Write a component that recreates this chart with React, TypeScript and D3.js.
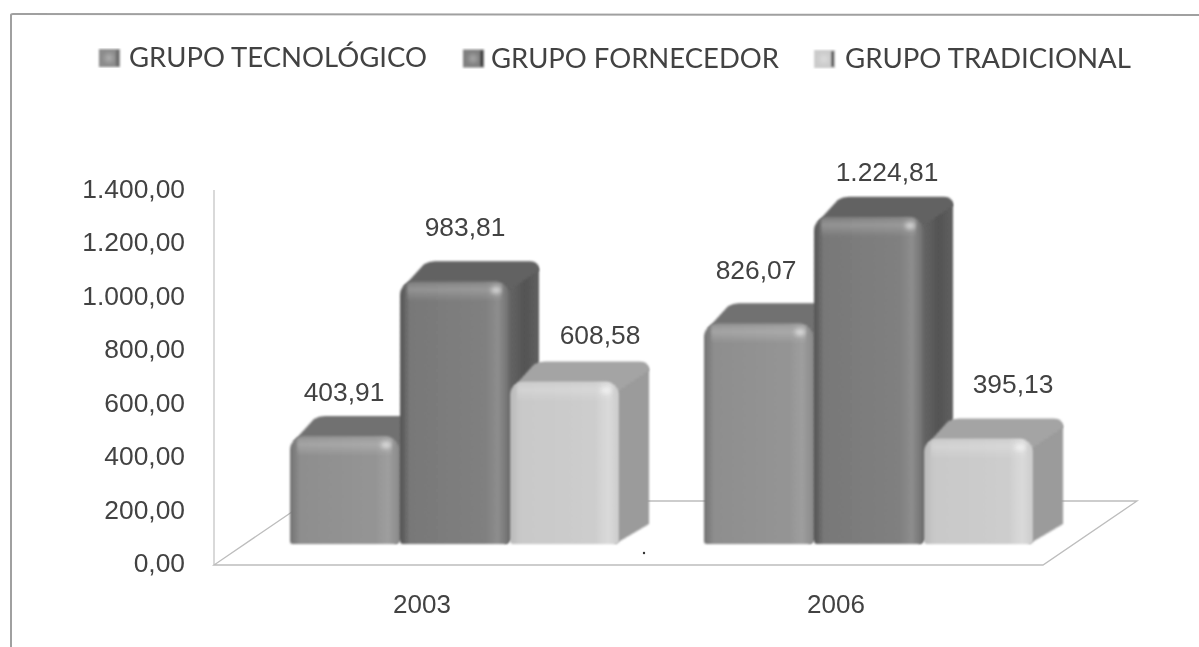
import React from "react";
import * as d3 from "d3";

const years = ["2003", "2006"];
const seriesNames = ["GRUPO TECNOLÓGICO", "GRUPO FORNECEDOR", "GRUPO TRADICIONAL"];
const values2003 = [403.91, 983.81, 608.58];
const values2006 = [826.07, 1224.81, 395.13];
const valueLabels2003 = ["403,91", "983,81", "608,58"];
const valueLabels2006 = ["826,07", "1.224,81", "395,13"];
const yTicks = [0, 200, 400, 600, 800, 1000, 1200, 1400];
const yTickLabels = ["0,00", "200,00", "400,00", "600,00", "800,00", "1.000,00", "1.200,00", "1.400,00"];

const W = 1199, H = 647;
const DX = 30, DY = 20, LIFT = 20;
const faceColors = [
  { front: ["#6f6f6f", "#8e8e8e", "#959595", "#a0a0a0", "#8a8a8a"], top: "#707070", side: "#7a7a7a" },
  { front: ["#4e4e4e", "#777777", "#7f7f7f", "#8e8e8e", "#6c6c6c"], top: "#5f5f5f", side: "#525252" },
  { front: ["#bcbcbc", "#cdcdcd", "#d2d2d2", "#e0e0e0", "#d0d0d0"], top: "#a6a6a6", side: "#9c9c9c" },
];
const labelNudge2003 = [[-1, -24], [10, -34], [35, -26]];
const labelNudge2006 = [[-3, -33], [18, -25], [34, -34]];
const legendX = [129, 491, 845];
const legendW = [298, 288, 286];
const legendY = [67, 67.5, 68];
const swatchX = [99, 463, 814];
const swatchShade = ["#8c8c8c", "#7f7f7f", "#d0d0d0"];
const swatchEdge = ["#6a6a6a", "#3c3c3c", "#555555"];

const y = d3.scaleLinear().domain([0, 1400]).range([564, 190]);
const x0 = d3.scaleBand<string>().domain(years).range([248, 1076]).paddingInner(84 / 414).paddingOuter(42 / 414);
const x1 = d3.scaleBand<string>().domain(seriesNames).range([0, x0.bandwidth()]);

function frontPath(x: number, w: number, top: number, base: number) {
  const r = 14, b = 3;
  const p = d3.path();
  p.moveTo(x, base - b);
  p.lineTo(x, top + r);
  p.arcTo(x, top, x + r, top, r);
  p.lineTo(x + w - r, top);
  p.arcTo(x + w, top, x + w, top + r, r);
  p.lineTo(x + w, base - b);
  p.arcTo(x + w, base, x + w - b, base, b);
  p.lineTo(x + b, base);
  p.arcTo(x, base, x, base - b, b);
  p.closePath();
  return p.toString();
}
function topPath(x: number, w: number, top: number) {
  const p = d3.path();
  const r = 9;
  p.moveTo(x + 3, top + 6);
  p.lineTo(x + DX - 6, top - DY + 3);
  p.quadraticCurveTo(x + DX - 1, top - DY, x + DX + 5, top - DY);
  p.lineTo(x + w + DX - r, top - DY);
  p.quadraticCurveTo(x + w + DX, top - DY, x + w + DX, top - DY + r);
  p.lineTo(x + w, top + r);
  p.closePath();
  return p.toString();
}
function sidePath(x: number, w: number, top: number, base: number) {
  const p = d3.path();
  p.moveTo(x + w - 6, top + 6);
  p.lineTo(x + w + DX - 2, top - DY + 4);
  p.lineTo(x + w + DX, top - DY + 8);
  p.lineTo(x + w + DX, base - DY);
  p.lineTo(x + w - 4, base);
  p.closePath();
  return p.toString();
}

function Shape({ d, fill }: { d: string; fill: string }) {
  return (
    <g filter="url(#soft)">
      <path d={d} fill={fill} />
      <path d={d} fill="url(#halftone)" />
    </g>
  );
}

function Bar({ year, si, value }: { year: string; si: number; value: number }) {
  const x = (x0(year) as number) + (x1(seriesNames[si]) as number);
  const w = x1.bandwidth() - 1;
  const top = y(value) - LIFT;
  const base = y(0) - LIFT;
  const c = faceColors[si];
  return (
    <g>
      <Shape d={sidePath(x, w, top, base)} fill={si === 1 ? "url(#side1)" : c.side} />
      <Shape d={topPath(x, w, top)} fill={c.top} />
      <Shape d={frontPath(x, w, top, base)} fill={`url(#front${si})`} />
      <rect x={x + 7} y={top + 2} width={w - 14} height={18} fill="url(#bevelTop)" filter="url(#soft)" />
      <ellipse cx={x + w - 13} cy={top + 9} rx={5} ry={3.5} fill="#fff" opacity={0.5} filter="url(#glow)" />
    </g>
  );
}

export default function App() {
  const groups = [
    { year: years[0], values: values2003, labels: valueLabels2003, nudge: labelNudge2003 },
    { year: years[1], values: values2006, labels: valueLabels2006, nudge: labelNudge2006 },
  ];
  const floorY = y(0) + 1;
  const floorPts = [[214, floorY], [1043, floorY], [1137, floorY - 64], [308, floorY - 64]];
  const textFill = "#424242";
  const num = "'Liberation Sans', Arial, sans-serif";
  return (
    <svg width={W} height={H} viewBox={`0 0 ${W} ${H}`} style={{ position: "fixed", left: 0, top: 0, background: "#fff" }}>
      <defs>
        <pattern id="halftone" width={3} height={3} patternUnits="userSpaceOnUse">
          <rect x={0} y={0} width={1.2} height={1.2} fill="#000" opacity={0.2} />
          <rect x={1.5} y={1.5} width={1.2} height={1.2} fill="#fff" opacity={0.2} />
        </pattern>
        <filter id="soft" x="-5%" y="-5%" width="110%" height="110%"><feGaussianBlur stdDeviation={0.9} /></filter>
        <filter id="glow" x="-100%" y="-100%" width="300%" height="300%"><feGaussianBlur stdDeviation={2.2} /></filter>
        <filter id="textSoft"><feGaussianBlur stdDeviation={0.4} /></filter>
        {faceColors.map((c, i) => (
          <linearGradient key={i} id={`front${i}`} x1="0" x2="1" y1="0" y2="0">
            <stop offset="0" stopColor={c.front[0]} />
            <stop offset="0.09" stopColor={c.front[1]} />
            <stop offset="0.78" stopColor={c.front[2]} />
            <stop offset="0.9" stopColor={c.front[3]} />
            <stop offset="1" stopColor={c.front[4]} />
          </linearGradient>
        ))}
        <linearGradient id="side1" x1="0" x2="1" y1="0" y2="0">
          <stop offset="0" stopColor="#6a6a6a" />
          <stop offset="0.6" stopColor="#505050" />
          <stop offset="1" stopColor="#5c5c5c" />
        </linearGradient>
        <linearGradient id="bevelTop" x1="0" x2="0" y1="0" y2="1">
          <stop offset="0" stopColor="#fff" stopOpacity={0.08} />
          <stop offset="0.35" stopColor="#fff" stopOpacity={0.2} />
          <stop offset="1" stopColor="#fff" stopOpacity={0} />
        </linearGradient>
        <radialGradient id="swatchGlow">
          <stop offset="0" stopColor="#fff" stopOpacity={0.3} />
          <stop offset="1" stopColor="#fff" stopOpacity={0} />
        </radialGradient>
      </defs>

      <path d={`M11,${H} L11,15 Q11,14 13,14 L${W},15`} fill="none" stroke="#a0a0a0" strokeWidth={2} />

      <line x1={214} x2={214} y1={y(1400)} y2={floorY} stroke="#cdcdcd" strokeWidth={1.5} />
      <path d={d3.line()(floorPts as [number, number][]) + "Z"} fill="none" stroke="#bdbdbd" strokeWidth={1.3} />

      {groups.map((g) => g.values.map((v, si) => <Bar key={g.year + si} year={g.year} si={si} value={v} />))}

      <circle cx={644} cy={553} r={1.2} fill="#333" />

      <g filter="url(#textSoft)" fill={textFill}>
        {yTicks.map((t, i) => (
          <text key={t} x={185} y={y(t) - 1} textAnchor="end" dominantBaseline="central" fontFamily={num} fontSize={26.4}>
            {yTickLabels[i]}
          </text>
        ))}
        {years.map((yr) => (
          <text key={yr} x={(x0(yr) as number) + x0.bandwidth() / 2 - 33} y={604} textAnchor="middle" dominantBaseline="central" fontFamily={num} fontSize={26}>
            {yr}
          </text>
        ))}
        {groups.map((g) =>
          g.values.map((v, si) => {
            const cx = (x0(g.year) as number) + (x1(seriesNames[si]) as number) + x1.bandwidth() / 2;
            return (
              <text key={g.year + si} x={cx + g.nudge[si][0]} y={y(v) - LIFT - DY + g.nudge[si][1]} textAnchor="middle" dominantBaseline="central" fontFamily={num} fontSize={26.4}>
                {g.labels[si]}
              </text>
            );
          })
        )}
        {seriesNames.map((s, i) => (
          <text key={s} x={legendX[i]} y={legendY[i]} fontFamily="Lato, 'Open Sans', sans-serif" fontSize={26} textLength={legendW[i]} lengthAdjust="spacingAndGlyphs">
            {s}
          </text>
        ))}
      </g>
      {seriesNames.map((s, i) => (
        <g key={s} filter="url(#soft)">
          <rect x={swatchX[i]} y={legendY[i] - 18} width={21} height={18} fill={swatchShade[i]} />
          <rect x={swatchX[i]} y={legendY[i] - 18} width={21} height={18} fill="url(#halftone)" />
          <rect x={swatchX[i] + 3} y={legendY[i] - 16} width={14} height={14} fill="url(#swatchGlow)" />
          <rect x={swatchX[i] + 17} y={legendY[i] - 17} width={3} height={16} fill={swatchEdge[i]} />
        </g>
      ))}
    </svg>
  );
}
